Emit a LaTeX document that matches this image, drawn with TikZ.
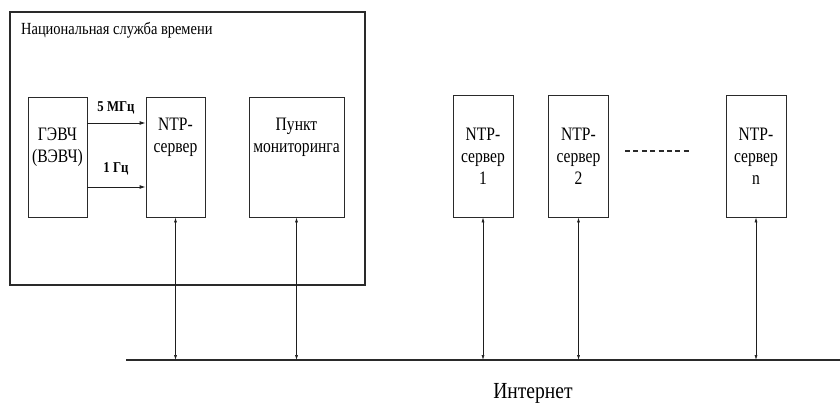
\documentclass[tikz,border=0pt]{standalone}
\usepackage{fontspec}
\setmainfont{Liberation Serif}
\usetikzlibrary{arrows.meta,positioning}
\definecolor{Frame}{HTML}{2A2A2A}
\definecolor{Wire}{HTML}{1E1E1E}
\tikzset{
  unit/.style={
    draw=Frame, line width=0.9pt, fill=white, inner sep=0pt
  },
  boxtext/.style={
    inner sep=0pt, align=center, xscale=0.82, font=\fontsize{19}{22}\selectfont
  },
  server/.style={
    unit, minimum width=60pt, minimum height=122pt
  },
  sigtext/.style={inner sep=0pt, xscale=0.85, font=\bfseries\fontsize{15}{17}\selectfont},
  feed/.style={-{Latex[length=6pt,width=4pt]}, line width=0.9pt, draw=Wire},
  link/.style={{Latex[length=5pt,width=3pt]}-{Latex[length=5pt,width=3pt]}, line width=0.6pt, draw=Wire},
  bus/.style={line width=1.8pt, draw=Frame},
  gap/.style={line width=1.4pt, draw=Frame, dash pattern=on 5pt off 3.4pt}
}
\begin{document}
\begin{tikzpicture}[x=1pt,y=-1pt]
  \useasboundingbox (0,0) rectangle (840,409);
  \node[unit, line width=1.2pt, minimum width=355pt, minimum height=273pt] (nss) at (187.5,148.5) {};
  \node[inner sep=0pt, anchor=base west, xscale=0.85, font=\fontsize{17}{20}\selectfont] (nsstitle) at (21,35) {Национальная служба времени};
  \node[unit, minimum width=59pt, minimum height=120pt] (gen) at (57.5,157) {};
  \node[unit, minimum width=59pt, minimum height=120pt] (ntp) at (175.5,157) {};
  \node[unit, minimum width=95pt, minimum height=120pt] (mon) at (296.5,157) {};
  \node[boxtext, below=31pt of gen.north] (gentext) {ГЭВЧ\\(ВЭВЧ)};
  \node[boxtext, below=21pt of ntp.north] (ntptext) {NTP-\\сервер};
  \node[boxtext, below=21pt of mon.north] (montext) {Пункт\\мониторинга};
  \draw[feed] ([yshift=34pt]gen.east) -- ([yshift=34pt]ntp.west);
  \draw[feed] ([yshift=-30pt]gen.east) -- ([yshift=-30pt]ntp.west);
  \node[sigtext, anchor=base] (f5) at (116,112) {5 МГц};
  \node[sigtext, anchor=base] (f1) at (116,172) {1 Гц};
  \node[server] (s1) at (483,156) {};
  \node[server] (s2) at (578.5,156) {};
  \node[server] (sn) at (756,156) {};
  \node[boxtext] (s1text) at (s1) {NTP-\\сервер\\1};
  \node[boxtext] (s2text) at (s2) {NTP-\\сервер\\2};
  \node[boxtext] (sntext) at (sn) {NTP-\\сервер\\n};
  \coordinate (dashL) at (625,151);
  \coordinate (dashR) at (692,151);
  \draw[gap] (dashL) -- (dashR);
  \coordinate (netL) at (126,360);
  \coordinate (netR) at (840,360);
  \draw[bus] (netL) -- (netR);
  \node[inner sep=0pt, anchor=base, xscale=0.85, font=\fontsize{23}{27}\selectfont] (net) at (533,398) {Интернет};
  \foreach \n in {ntp,mon,s1,s2,sn}
    \draw[link] (\n.south) -- (\n.south |- netL);
\end{tikzpicture}
\end{document}
